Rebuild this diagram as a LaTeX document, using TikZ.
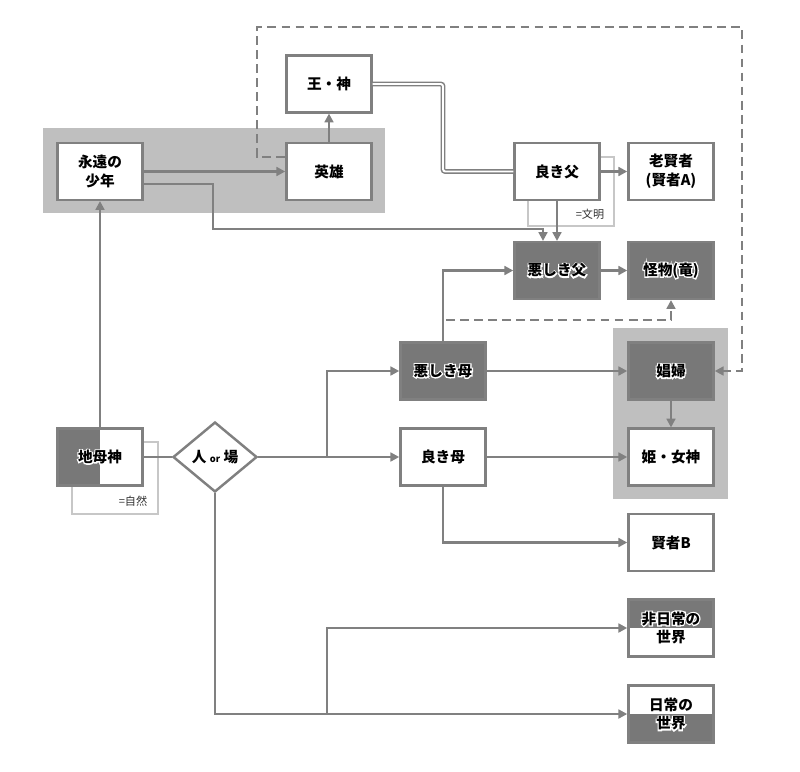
\documentclass[tikz,border=0pt]{standalone}
\usepackage{fontspec}
\setmainfont{Noto Sans CJK JP}
\usetikzlibrary{positioning,arrows.meta,shapes.geometric}
% white outline under dark-box labels
\newcommand{\halo}[1]{\leavevmode\rlap{\special{pdf:literal direct 1 Tr 2 w 1 G}#1\special{pdf:literal direct 0 Tr 0 G}}#1}

\begin{document}
\begin{tikzpicture}[
  x=0.03cm, y=-0.03cm,
  font=\bfseries\fontsize{12.5pt}{16pt}\selectfont,
  box/.style={rectangle, draw=black!50, line width=2.1pt, fill=white,
              minimum width=2.55cm, minimum height=1.7cm, inner sep=2pt, align=center},
  dark/.style={box, fill=black!53},
  lefthalf/.style={box, path picture={\fill[black!53] (path picture bounding box.north west) rectangle (path picture bounding box.south);}},
  tophalf/.style={box, path picture={\fill[black!53] (path picture bounding box.north west) rectangle (path picture bounding box.east);}},
  bothalf/.style={box, path picture={\fill[black!53] (path picture bounding box.west) rectangle (path picture bounding box.south east);}},
  dia/.style={diamond, draw=black!50, line width=2.1pt, fill=white,
              minimum width=2.52cm, minimum height=2.1cm, inner sep=0pt},
  bg/.style={fill=black!25},
  note/.style={draw=black!22, line width=1.6pt},
  notetxt/.style={font=\fontsize{9.5pt}{11pt}\selectfont, text=black!80, inner sep=1pt},
  line/.style={draw=black!50, line width=2.5pt},
  arr/.style={line, -{Triangle[length=7.5pt,width=7.5pt]}},
  dsh/.style={arr, dash pattern=on 7.5pt off 4.5pt},
  dbl/.style={draw=black!50, line width=1.3pt, double=white, double distance=1.6pt, rounded corners=2pt}
]
\useasboundingbox (0,0) rectangle (800,771);

% groups
\fill[bg] (43,128) rectangle (385,213);
\fill[bg] (613,328) rectangle (728,499);

% notes
\draw[note] (528,157) rectangle (614,226);
\node[notetxt] (bunmei) at (590,214) {=文明};
\draw[note] (72,442) rectangle (158,514);
\node[notetxt] (shizen) at (133,501) {=自然};

% nodes
\node[box] (ou)         at (329,84)    {王・神};
\node[box] (eien)       at (100,171.5) {永遠の\\少年};
\node[box] (eiyu)       at (329,171.5) {英雄};
\node[box] (yokichichi) at (557,171.5) {良き父};
\node[box] (roukenja)   at (671,171.5) {老賢者\\(賢者A)};
\node[dark] (akichichi) at (557,270.5) {\halo{悪しき父}};
\node[dark] (kaibutsu)  at (671,270.5) {\halo{怪物(竜)}};
\node[dark] (akihaha)   at (443,371)   {\halo{悪しき母}};
\node[dark] (shofu)     at (671,371)   {\halo{娼婦}};
\node[lefthalf] (jibo)  at (100,457)   {\halo{地母神}};
\node[dia] (hito)       at (215,457)   {人 {\fontsize{8pt}{8pt}\selectfont or} 場};
\node[box] (yokihaha)   at (443,457)   {良き母};
\node[box] (hime)       at (671,457)   {姫・女神};
\node[box] (kenjaB)     at (671,542.5) {賢者B};
\node[tophalf] (hinichijo) at (671,628) {\halo{非日常の}\\\halo{世界}};
\node[bothalf] (nichijo)   at (671,714) {\halo{日常の}\\\halo{世界}};

\coordinate (b1) at (327,457);
\coordinate (b2) at (327,714);
\coordinate (d0) at (446,320);

% connectors
\draw[arr] (eien.east) -- (eiyu.west);
\draw[arr] (eiyu.north) -- (ou.south);
\draw[dbl] (ou.east) -| (443,171.5) -- (yokichichi.west);
\draw[arr] (yokichichi.east) -- (roukenja.west);
\draw[arr] (yokichichi.south) -- (akichichi.north);
\draw[arr] (eien.east |- 0,184) -| (213,229) -| ([xshift=-0.42cm]akichichi.north);
\draw[arr] (akihaha.north) |- (akichichi.west);
\draw[arr] (akichichi.east) -- (kaibutsu.west);
\draw[dsh] (d0) -| (kaibutsu.south);
\draw[arr] (akihaha.east) -- (shofu.west);
\draw[arr] (shofu.south) -- (hime.north);
\draw[dsh] (eiyu.west |- 0,157) -| (257,27) -| (742,371) -- (shofu.east);
\draw[arr] (jibo.north) -- (eien.south);
\draw[line] (jibo.east) -- (hito.west);
\draw[line] (hito.east) -- (b1);
\draw[arr] (b1) |- (akihaha.west);
\draw[arr] (b1) -- (yokihaha.west);
\draw[arr] (yokihaha.east) -- (hime.west);
\draw[arr] (yokihaha.south) |- (kenjaB.west);
\draw[arr] (hito.south) |- (nichijo.west);
\draw[arr] (b2) |- (hinichijo.west);
\end{tikzpicture}
\end{document}
